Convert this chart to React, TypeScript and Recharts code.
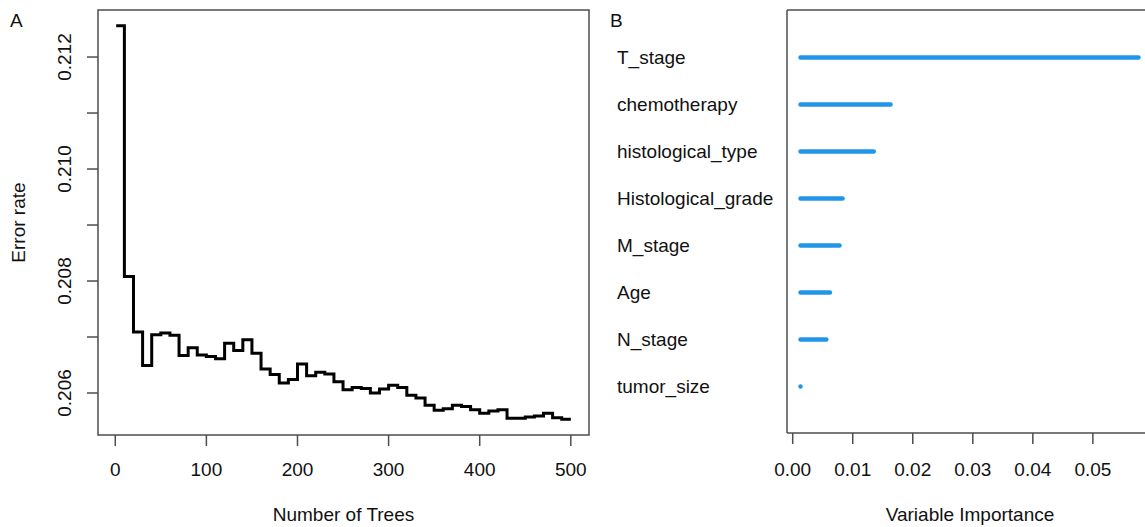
import React from "react";
import {
  LineChart,
  Line,
  XAxis,
  YAxis,
  ReferenceArea,
  ComposedChart,
  Bar,
} from "recharts";

// Panel A: OOB error rate against number of trees (sampled every 10 trees)
const treeCounts = [
  1, 10, 20, 30, 40, 50, 60, 70, 80, 90, 100, 110, 120, 130, 140, 150, 160,
  170, 180, 190, 200, 210, 220, 230, 240, 250, 260, 270, 280, 290, 300, 310,
  320, 330, 340, 350, 360, 370, 380, 390, 400, 410, 420, 430, 440, 450, 460,
  470, 480, 490, 500,
];
const errorRates = [
  0.21256, 0.20808, 0.20709, 0.20649, 0.20704, 0.20707, 0.20703, 0.20667,
  0.20681, 0.20668, 0.20665, 0.20661, 0.20689, 0.20676, 0.20695, 0.20671,
  0.20643, 0.20633, 0.20618, 0.20624, 0.20652, 0.20631, 0.20637, 0.20634,
  0.2062, 0.20606, 0.2061, 0.20608, 0.206, 0.20607, 0.20614, 0.2061, 0.20596,
  0.20591, 0.20578, 0.20569, 0.20572, 0.20578, 0.20576, 0.2057, 0.20564,
  0.20568, 0.2057, 0.20555, 0.20555, 0.20557, 0.20559, 0.20564, 0.20556,
  0.20553, 0.20553,
];
const treeTicks = [0, 100, 200, 300, 400, 500];
const rateTicks = [0.206, 0.207, 0.208, 0.209, 0.21, 0.211, 0.212];

// Panel B: variable importance
const variables = [
  "T_stage",
  "chemotherapy",
  "histological_type",
  "Histological_grade",
  "M_stage",
  "Age",
  "N_stage",
  "tumor_size",
];
const importance = [0.0576, 0.0163, 0.0135, 0.0083, 0.0078, 0.0062, 0.0056, 0.0013];
const importanceTicks = [0, 0.01, 0.02, 0.03, 0.04, 0.05];

const FONT = "'Liberation Sans', Arial, Helvetica, sans-serif";
const INK = "#111";
const FRAME = "#4d4d4d";
const BLUE = "#2196e8";

// R-style axis limits (data range padded by 4%)
const treeDomain: [number, number] = [-18.96, 519.96];
const rateDomain: [number, number] = [0.20525, 0.21284];
const vimpStart = Math.min(...importance);
const vimpDomain: [number, number] = [-0.00095, 0.05985];

const errorData = treeCounts.map((n, i) => ({ trees: n, rate: errorRates[i] }));
const importanceData = variables.map((name, i) => ({
  name,
  span: [vimpStart, importance[i]],
}));

const textStyle = { fontFamily: FONT, fontSize: 19, fill: INK };

function TreeTick(props: any) {
  const { x, payload } = props;
  return (
    <text x={x} y={476} textAnchor="middle" {...textStyle}>
      {payload.value}
    </text>
  );
}

function RateTick(props: any) {
  const { y, payload } = props;
  const v = payload.value as number;
  // only every other tick carries a label
  if (Math.round(v * 1000) % 2 !== 0) return <g />;
  return (
    <text
      x={71}
      y={y}
      transform={`rotate(-90 71 ${y})`}
      textAnchor="middle"
      {...textStyle}
    >
      {v.toFixed(3)}
    </text>
  );
}

function ImportanceTick(props: any) {
  const { x, payload } = props;
  return (
    <text x={x} y={476} textAnchor="middle" {...textStyle}>
      {(payload.value as number).toFixed(2)}
    </text>
  );
}

function VariableTick(props: any) {
  const { y, payload } = props;
  return (
    <text x={30} y={y + 6.5} textAnchor="start" {...textStyle}>
      {payload.value}
    </text>
  );
}

// thick segment with round ends; a zero-length span becomes a dot
function Segment(props: any) {
  const { x, y, width, height } = props;
  const cy = y + height / 2;
  return (
    <line
      x1={x}
      x2={x + width}
      y1={cy}
      y2={cy}
      stroke={BLUE}
      strokeWidth={4.5}
      strokeLinecap="round"
    />
  );
}

function ErrorPanel() {
  return (
    <LineChart
      width={600}
      height={527}
      data={errorData}
      margin={{ top: 10, right: 11, bottom: 0, left: 0 }}
    >
      <XAxis
        dataKey="trees"
        type="number"
        domain={treeDomain}
        allowDataOverflow
        ticks={treeTicks}
        height={92}
        tickSize={11}
        axisLine={false}
        tickLine={{ stroke: FRAME, strokeWidth: 1.5 }}
        tick={TreeTick}
        label={() => (
          <text x={343.5} y={521} textAnchor="middle" {...textStyle}>
            Number of Trees
          </text>
        )}
      />
      <YAxis
        type="number"
        domain={rateDomain}
        allowDataOverflow
        ticks={rateTicks}
        width={98}
        tickSize={11}
        axisLine={false}
        tickLine={{ stroke: FRAME, strokeWidth: 1.5 }}
        tick={RateTick}
        label={() => (
          <text
            x={25}
            y={222.5}
            transform="rotate(-90 25 222.5)"
            textAnchor="middle"
            {...textStyle}
          >
            Error rate
          </text>
        )}
      />
      <ReferenceArea
        x1={treeDomain[0]}
        x2={treeDomain[1]}
        y1={rateDomain[0]}
        y2={rateDomain[1]}
        fill="none"
        fillOpacity={0}
        stroke={FRAME}
        strokeWidth={1.5}
        ifOverflow="visible"
      />
      <Line
        type="stepAfter"
        dataKey="rate"
        stroke="#000"
        strokeWidth={3}
        dot={false}
        isAnimationActive={false}
      />
    </LineChart>
  );
}

function ImportancePanel() {
  return (
    <ComposedChart
      layout="vertical"
      width={576}
      height={527}
      data={importanceData}
      margin={{ top: 9, right: 10, bottom: 0, left: 0 }}
    >
      <XAxis
        type="number"
        domain={vimpDomain}
        allowDataOverflow
        ticks={importanceTicks}
        height={94}
        tickSize={11}
        axisLine={{ stroke: FRAME, strokeWidth: 1.5 }}
        tickLine={{ stroke: FRAME, strokeWidth: 1.5 }}
        tick={ImportanceTick}
        label={() => (
          <text x={383} y={521} textAnchor="middle" {...textStyle}>
            Variable Importance
          </text>
        )}
      />
      {/* top edge of the frame */}
      <XAxis
        xAxisId="top"
        orientation="top"
        type="number"
        domain={vimpDomain}
        allowDataOverflow
        height={1}
        tick={false}
        tickLine={false}
        axisLine={{ stroke: FRAME, strokeWidth: 1.5 }}
      />
      <YAxis
        type="category"
        dataKey="name"
        width={200}
        padding={{ top: 23.5, bottom: 23.5 }}
        interval={0}
        tickLine={false}
        axisLine={{ stroke: FRAME, strokeWidth: 1.5 }}
        tick={VariableTick}
      />
      <YAxis
        yAxisId="right"
        orientation="right"
        type="category"
        dataKey="name"
        width={1}
        tick={false}
        tickLine={false}
        axisLine={{ stroke: FRAME, strokeWidth: 1.5 }}
      />
      <Bar dataKey="span" barSize={8} shape={Segment} isAnimationActive={false} />
    </ComposedChart>
  );
}

export default function App() {
  return (
    <div
      style={{
        position: "absolute",
        left: 0,
        top: 0,
        width: 1145,
        height: 527,
        overflow: "hidden",
        background: "#fff",
      }}
    >
      <div style={{ position: "absolute", left: 0, top: 0 }}>
        <ErrorPanel />
      </div>
      <div style={{ position: "absolute", left: 587, top: 0 }}>
        <ImportancePanel />
      </div>
      <svg
        width={1145}
        height={527}
        style={{ position: "absolute", left: 0, top: 0, pointerEvents: "none" }}
      >
        <text x={10} y={27} {...textStyle}>
          A
        </text>
        <text x={610} y={27} {...textStyle}>
          B
        </text>
      </svg>
    </div>
  );
}
